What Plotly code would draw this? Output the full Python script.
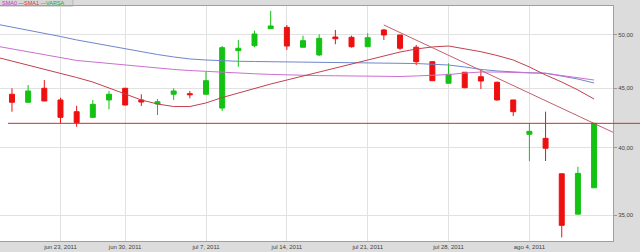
import plotly.graph_objects as go

# ---------------- data ----------------
dates = [
    "2011-06-20", "2011-06-21", "2011-06-22", "2011-06-23", "2011-06-27",
    "2011-06-28", "2011-06-29", "2011-06-30", "2011-07-01", "2011-07-04",
    "2011-07-05", "2011-07-06", "2011-07-07", "2011-07-08", "2011-07-11",
    "2011-07-12", "2011-07-13", "2011-07-14", "2011-07-15", "2011-07-18",
    "2011-07-19", "2011-07-20", "2011-07-21", "2011-07-22", "2011-07-25",
    "2011-07-26", "2011-07-27", "2011-07-28", "2011-07-29", "2011-08-01",
    "2011-08-02", "2011-08-03", "2011-08-04", "2011-08-05", "2011-08-08",
    "2011-08-09", "2011-08-10",
]
open_ = [44.46, 43.76, 44.99, 43.96, 42.95, 42.47, 43.96, 44.99, 43.96, 43.61,
         44.46, 44.51, 44.46, 43.26, 48.47, 48.95, 50.63, 50.76, 48.80, 48.06,
         49.80, 49.77, 48.85, 50.50, 50.00, 48.80, 47.42, 45.44, 46.44, 46.03,
         45.53, 43.96, 41.07, 40.74, 37.98, 35.06, 36.94]
high = [44.99, 45.28, 45.73, 44.16, 43.46, 43.96, 44.75, 45.02, 44.46, 44.04,
        44.99, 44.75, 46.49, 48.92, 49.51, 50.43, 52.44, 51.00, 49.93, 50.07,
        50.50, 49.93, 50.17, 50.60, 50.00, 49.02, 47.45, 47.27, 46.44, 46.65,
        45.58, 43.96, 41.97, 42.95, 37.98, 38.51, 41.97]
low = [42.95, 43.70, 43.87, 41.97, 41.69, 42.47, 43.15, 43.50, 43.44, 42.67,
       43.96, 44.10, 44.46, 43.01, 46.95, 48.80, 50.63, 48.54, 48.80, 47.96,
       49.09, 48.76, 48.85, 49.51, 48.54, 47.11, 45.64, 45.44, 44.99, 44.93,
       43.90, 42.58, 38.95, 38.95, 33.48, 35.06, 36.94]
close = [43.76, 44.75, 43.87, 42.47, 42.02, 43.58, 44.46, 43.52, 43.78, 43.81,
         44.75, 44.42, 45.67, 48.76, 48.70, 50.10, 50.90, 48.92, 49.44, 49.67,
         49.63, 48.85, 49.73, 50.00, 48.70, 47.42, 45.67, 46.25, 45.04, 45.64,
         43.96, 42.95, 41.31, 39.95, 34.29, 38.01, 41.97]

# moving averages start one session earlier (jun 17, 2011)
ma_dates = ["2011-06-17"] + dates
sma_blue = [51.10, 50.80, 50.50, 50.15, 49.85, 49.51, 49.21, 48.92, 48.63, 48.34,
            48.10, 47.87, 47.68, 47.58, 47.49, 47.46, 47.44, 47.42, 47.40, 47.40,
            47.40, 47.38, 47.37, 47.36, 47.34, 47.30, 47.25, 47.18, 47.11, 46.93,
            46.70, 46.56, 46.46, 46.39, 46.35, 46.10, 45.82, 45.46]
sma0 = [48.92, 48.63, 48.34, 48.06, 47.82, 47.54, 47.40, 47.25, 47.11, 46.97,
        46.84, 46.70, 46.60, 46.51, 46.42, 46.35, 46.30, 46.24, 46.19, 46.16,
        46.13, 46.12, 46.10, 46.08, 46.05, 46.05, 46.10, 46.14, 46.23, 46.37,
        46.46, 46.46, 46.44, 46.39, 46.35, 46.14, 45.96, 45.73]
sma1 = [47.87, 47.49, 47.11, 46.70, 46.33, 45.96, 45.55, 45.01, 44.48, 43.96,
        43.61, 43.39, 43.39, 43.70, 44.17, 44.57, 45.01, 45.37, 45.73, 46.10,
        46.46, 46.84, 47.21, 47.58, 47.96, 48.34, 48.63, 48.83, 48.92, 48.68,
        48.37, 48.01, 47.58, 46.93, 46.19, 45.55, 44.84, 44.04]

# drawn trend line (start date index, value) -> (end position, value)
trend_x = [23, 37.4]
trend_y = [51.0, 41.09]
support_level = 41.97

tick_dates = ["2011-06-23", "2011-06-30", "2011-07-07", "2011-07-14",
              "2011-07-21", "2011-07-28", "2011-08-04"]
tick_text = ["jun 23, 2011", "jun 30, 2011", "jul 7, 2011", "jul 14, 2011",
             "jul 21, 2011", "jul 28, 2011", "ago 4, 2011"]
y_ticks = [35, 40, 45, 50]

# ---------------- figure ----------------
x = list(range(len(dates)))
ma_x = [i - 1 for i in range(len(ma_dates))]
tickvals = [dates.index(d) for d in tick_dates]

fig = go.Figure()
fig.add_trace(go.Scatter(x=ma_x, y=sma_blue, mode="lines", name="SMA",
                         line=dict(color="#6f86cc", width=1)))
fig.add_trace(go.Scatter(x=ma_x, y=sma0, mode="lines", name="SMA0",
                         line=dict(color="#cc6fd0", width=1)))
fig.add_trace(go.Scatter(x=ma_x, y=sma1, mode="lines", name="SMA1",
                         line=dict(color="#c2404f", width=1)))
fig.add_trace(go.Scatter(x=trend_x, y=trend_y, mode="lines", name="trend",
                         line=dict(color="#c2606e", width=1)))
fig.add_trace(go.Candlestick(
    x=x, open=open_, high=high, low=low, close=close, name="VARSA",
    whiskerwidth=0,
    increasing=dict(line=dict(color="#14c214", width=1), fillcolor="#14c214"),
    decreasing=dict(line=dict(color="#ee1010", width=1), fillcolor="#ee1010"),
))

fig.add_shape(type="line", xref="paper", yref="y", x0=0.013, x1=1.05,
              y0=support_level, y1=support_level,
              line=dict(color="#cc3030", width=1))

# legend box at the top-left
fig.add_shape(type="rect", xref="paper", yref="paper", x0=-0.01, x1=0.119,
              y0=1.0, y1=1.06, fillcolor="#d6d6d6",
              line=dict(color="#b8b8b8", width=1), layer="below")
fig.add_annotation(
    xref="paper", yref="paper", x=0.0, y=1.0128, xanchor="left", yanchor="middle",
    showarrow=False, font=dict(size=5.5, family="Liberation Sans"),
    text=("<span style='color:#cc33cc'>SMA0</span> "
          "<span style='color:#dd3333'>\u2014SMA1</span> "
          "<span style='color:#22aa22'>\u2014VARSA</span>"),
)

axis_line = "#8da2c2"
fig.update_layout(
    width=640, height=252,
    margin=dict(l=0, r=27, t=6, b=11),
    paper_bgcolor="#dcdcdc", plot_bgcolor="white",
    separators=",.",
    showlegend=False,
    boxgap=0.56,
    font=dict(family="Liberation Sans", size=6, color="#444444"),
    xaxis=dict(
        range=[-0.74, 37.17], tickvals=tickvals, ticktext=tick_text,
        showgrid=True, gridcolor="#e2e2e2", gridwidth=1,
        showline=True, linecolor=axis_line, mirror=True,
        ticks="", zeroline=False, rangeslider=dict(visible=False),
        tickfont=dict(size=6),
    ),
    yaxis=dict(
        type="log", range=[1.5217, 1.7239], side="right",
        tickvals=y_ticks, tickformat=".2f",
        showgrid=True, gridcolor="#e2e2e2", gridwidth=1,
        showline=True, linecolor=axis_line, mirror=True,
        ticks="outside", ticklen=3, tickcolor="#999999",
        zeroline=False, tickfont=dict(size=6),
    ),
)

fig.write_html("out.html")
